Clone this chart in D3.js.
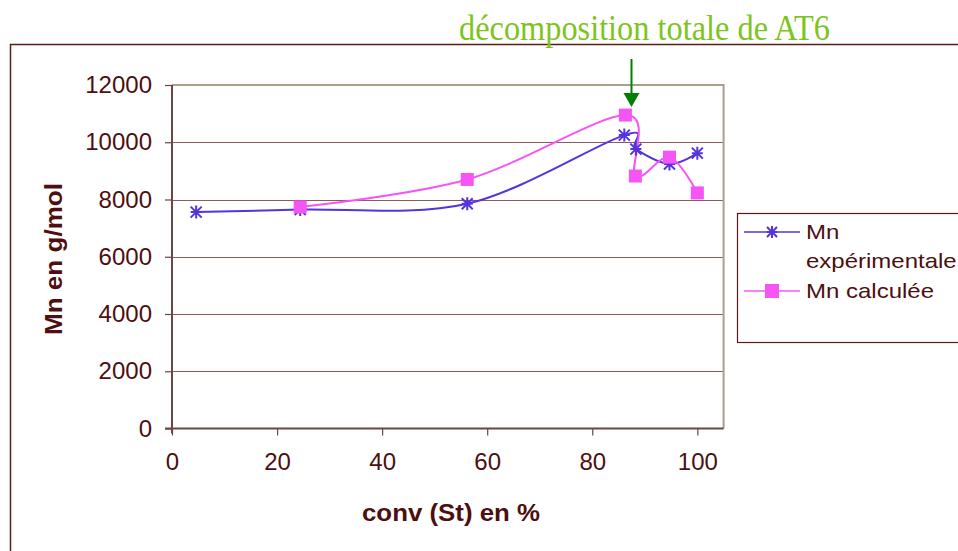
<!DOCTYPE html>
<html>
<head>
<meta charset="utf-8">
<script src="https://cdn.jsdelivr.net/npm/d3@7"></script>
<style>
  body { margin: 0; background: #fff; }
  text { font-family: "Liberation Sans", Arial, sans-serif; }
</style>
</head>
<body>
<svg id="chart" width="958" height="551"></svg>
<script>
// valeurs
const convExp = [4.6, 24.4, 56.2, 86.1, 88.3, 94.7, 100];
const mnExp = [7560, 7650, 7850, 10250, 9760, 9240, 9620];
const convCalc = [24.4, 56.2, 86.3, 88.2, 94.7, 100];
const mnCalc = [7740, 8700, 10950, 8820, 9480, 8230];
const xTicks = [0, 20, 40, 60, 80, 100];
const yTicks = [0, 2000, 4000, 6000, 8000, 10000, 12000];
const titre = "décomposition totale de AT6";
const arrowAt = 87.4;

const svg = d3.select("#chart");
const brown = "#4d0f0f";

// cadre extérieur
svg.append("path")
    .attr("d", "M10.5,551 V44.5 H958")
    .attr("fill", "none")
    .attr("stroke", "#5a1a1a")
    .attr("stroke-width", 1.5);

const x = d3.scaleLinear().domain([0, 105]).range([172, 723.6]);
const y = d3.scaleLinear().domain([0, 12000]).range([428.5, 85]);

// grille
svg.append("g")
    .selectAll("line")
    .data(yTicks.filter(d => d > 0 && d < 12000))
    .enter()
    .append("line")
    .attr("x1", x(0)).attr("x2", x(105))
    .attr("y1", d => Math.round(y(d)) + 0.5)
    .attr("y2", d => Math.round(y(d)) + 0.5)
    .attr("stroke", "#8c5c5c")
    .attr("stroke-width", 1);

// bord haut et droit du tracé
svg.append("path")
    .attr("d", `M${x(0)},${y(12000)} H${x(105)} V${y(0)}`)
    .attr("fill", "none")
    .attr("stroke", "#a89f8c")
    .attr("stroke-width", 2);

// axes
const yAxis = d3.axisLeft(y).tickValues(yTicks).tickSize(7).tickPadding(13).tickFormat(d3.format("d"));
const xAxis = d3.axisBottom(x).tickValues(xTicks).tickSize(7).tickPadding(17);

const gy = svg.append("g").attr("transform", `translate(${x(0)},0)`).call(yAxis);
const gx = svg.append("g").attr("transform", `translate(0,${y(0)})`).call(xAxis);

[gx, gy].forEach(g => {
    g.select(".domain").attr("stroke", "#6e4444").attr("stroke-width", 2);
    g.selectAll(".tick line").attr("stroke", "#6e4444").attr("stroke-width", 1.2);
    g.selectAll(".tick text")
        .attr("fill", brown)
        .attr("font-size", 24)
        .attr("font-family", "Liberation Sans, Arial, sans-serif");
});
gy.select(".domain").attr("d", `M0,${y(12000)} V${y(0) + 5}`);
gx.select(".domain").attr("d", `M${x(0) - 7},0 H${x(105)}`);

// titres des axes
svg.append("text")
    .attr("x", 362).attr("y", 521)
    .attr("font-weight", "bold")
    .attr("font-size", 24)
    .attr("textLength", 178)
    .attr("lengthAdjust", "spacingAndGlyphs")
    .attr("fill", brown)
    .text("conv (St) en %");

svg.append("text")
    .attr("transform", "translate(62,335) rotate(-90)")
    .attr("font-weight", "bold")
    .attr("font-size", 24)
    .attr("textLength", 152)
    .attr("lengthAdjust", "spacingAndGlyphs")
    .attr("fill", brown)
    .text("Mn en g/mol");

// courbes lissées
const blue = "#5533dd";
const pink = "#f555f5";
const expData = convExp.map((c, i) => ({ c: c, v: mnExp[i] }));
const calcData = convCalc.map((c, i) => ({ c: c, v: mnCalc[i] }));

const line = d3.line()
    .x(d => x(d.c))
    .y(d => y(d.v))
    .curve(d3.curveCardinal.tension(0));

svg.append("path")
    .datum(expData)
    .attr("d", line)
    .attr("fill", "none")
    .attr("stroke", blue)
    .attr("stroke-width", 2);

svg.append("path")
    .datum(calcData)
    .attr("d", line)
    .attr("fill", "none")
    .attr("stroke", pink)
    .attr("stroke-width", 2);

// marqueurs étoile
function star(g, cx, cy, r) {
    g.append("path")
        .attr("d", `M${cx - r},${cy - r}L${cx + r},${cy + r}M${cx - r},${cy + r}L${cx + r},${cy - r}M${cx},${cy - r - 1}V${cy + r + 1}M${cx - r},${cy}H${cx + r}`)
        .attr("stroke", blue)
        .attr("stroke-width", 2)
        .attr("fill", "none");
}
const stars = svg.append("g");
expData.forEach(d => star(stars, x(d.c), y(d.v), 5.5));

svg.append("g")
    .selectAll("rect")
    .data(calcData)
    .enter()
    .append("rect")
    .attr("x", d => x(d.c) - 6.5)
    .attr("y", d => y(d.v) - 6.5)
    .attr("width", 13)
    .attr("height", 13)
    .attr("fill", pink);

// légende
const leg = svg.append("g");
leg.append("rect")
    .attr("x", 737.5).attr("y", 213.5)
    .attr("width", 240).attr("height", 129)
    .attr("fill", "#fff")
    .attr("stroke", "#5a1a1a")
    .attr("stroke-width", 1.2);
leg.append("line").attr("x1", 744).attr("x2", 800).attr("y1", 232).attr("y2", 232)
    .attr("stroke", blue).attr("stroke-width", 1.5);
star(leg, 772, 232, 5);
leg.append("line").attr("x1", 744).attr("x2", 800).attr("y1", 291).attr("y2", 291)
    .attr("stroke", pink).attr("stroke-width", 1.5);
leg.append("rect").attr("x", 765).attr("y", 284).attr("width", 14).attr("height", 14).attr("fill", pink);

const legText = [["Mn", 239], ["expérimentale", 268], ["Mn calculée", 298]];
leg.selectAll("text.l")
    .data(legText)
    .enter()
    .append("text")
    .attr("transform", d => `translate(806,${d[1]}) scale(1.2,1)`)
    .attr("font-size", 20)
    .attr("fill", brown)
    .text(d => d[0]);

// annotation
svg.append("text")
    .attr("x", 459).attr("y", 40)
    .attr("font-size", 35)
    .attr("textLength", 371)
    .attr("lengthAdjust", "spacingAndGlyphs")
    .attr("fill", "#7ec41e")
    .style("font-family", "'Liberation Serif', 'Times New Roman', serif")
    .text(titre);

const ax = Math.round(x(arrowAt)) + 0.5;
svg.append("line")
    .attr("x1", ax).attr("x2", ax)
    .attr("y1", 59).attr("y2", 95)
    .attr("stroke", "#008000")
    .attr("stroke-width", 2);
svg.append("path")
    .attr("d", `M${ax - 8},93 L${ax + 8},93 L${ax},107 Z`)
    .attr("fill", "#008000");
</script>
</body>
</html>
